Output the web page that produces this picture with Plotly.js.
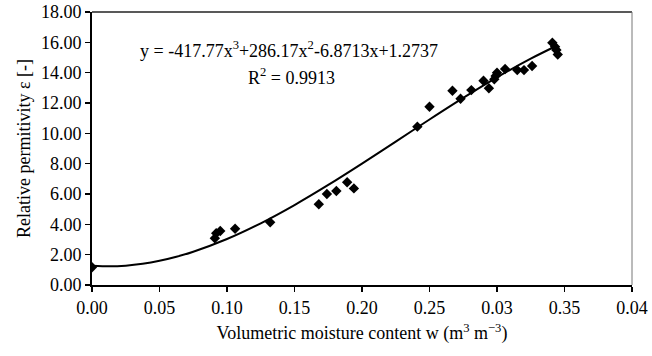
<!DOCTYPE html>
<html>
<head>
<meta charset="utf-8">
<script src="https://cdn.plot.ly/plotly-3.0.1.min.js"></script>
<style>html,body{margin:0;padding:0;background:#fff;}#chart{width:652px;height:356px;}</style>
</head>
<body>
<div id="chart"></div>
<script>
// Measured points
const moisture = [0.000, 0.091, 0.092, 0.095, 0.106, 0.132, 0.168, 0.174, 0.181, 0.189, 0.194,
  0.241, 0.250, 0.267, 0.273, 0.281, 0.290, 0.294, 0.298, 0.299, 0.300, 0.306, 0.315, 0.320, 0.326,
  0.341, 0.343, 0.344, 0.345];
const permittivity = [1.17, 3.08, 3.41, 3.56, 3.71, 4.13, 5.32, 6.00, 6.20, 6.77, 6.37,
  10.44, 11.75, 12.81, 12.28, 12.85, 13.47, 12.97, 13.56, 13.78, 14.00, 14.24, 14.17, 14.17, 14.44,
  15.97, 15.71, 15.49, 15.20];
// Trend line (cubic fit)
const trendX = [0, 0.0125, 0.025, 0.0375, 0.05, 0.0625, 0.075, 0.1, 0.125, 0.15, 0.175, 0.2, 0.225, 0.25, 0.275, 0.3, 0.325, 0.345];
const trendY = [1.274, 1.232, 1.274, 1.396, 1.593, 1.860, 2.192, 3.031, 4.070, 5.272, 6.596, 8.004, 9.456, 10.914, 12.337, 13.688, 14.926, 15.809];
// Axis tick labels (as printed)
const xTickVals = [0, 0.05, 0.10, 0.15, 0.20, 0.25, 0.30, 0.35, 0.40];
const xTickText = ['0.00', '0.05', '0.10', '0.15', '0.20', '0.25', '0.03', '0.35', '0.04'];
const equationText = 'y = -417.77x<sup>3</sup>+286.17x<sup>2</sup>-6.8713x+1.2737';
const r2Text = 'R<sup>2</sup> = 0.9913';

const font = 'Liberation Serif, Times New Roman, serif';

const traces = [
  {x: trendX, y: trendY, mode: 'lines', type: 'scatter', line: {color: '#000', width: 2, shape: 'spline', smoothing: 0.8}, hoverinfo: 'skip'},
  {x: moisture, y: permittivity, mode: 'markers', type: 'scatter', marker: {symbol: 'diamond', size: 8, color: '#000'}}
];

const layout = {
  width: 652, height: 356,
  margin: {l: 92, r: 20, t: 12, b: 71},
  paper_bgcolor: '#fff', plot_bgcolor: '#fff',
  showlegend: false,
  font: {family: font, size: 18, color: '#000'},
  xaxis: {
    range: [0, 0.4], tickvals: xTickVals, ticktext: xTickText,
    showgrid: false, zeroline: false, showline: true, linecolor: '#000', linewidth: 2,
    ticks: 'outside', ticklen: 5, tickwidth: 1.5, tickcolor: '#000',
    tickfont: {family: font, size: 18},
    title: {text: 'Volumetric moisture content w (m<sup>3</sup> m<sup>−3</sup>)', font: {family: font, size: 18}, standoff: 10}
  },
  yaxis: {
    range: [0, 18], dtick: 2, tickformat: '.2f',
    showgrid: false, zeroline: false, showline: true, linecolor: '#000', linewidth: 2,
    ticks: 'outside', ticklen: 5, tickwidth: 1.5, tickcolor: '#000',
    tickfont: {family: font, size: 18},
    title: {text: 'Relative permitivity ε [-]', font: {family: font, size: 18}, standoff: 6}
  },
  shapes: [
    {type: 'line', xref: 'paper', yref: 'paper', x0: 0, x1: 1, y0: 1, y1: 1, line: {color: '#222', width: 1.5}},
    {type: 'line', xref: 'paper', yref: 'paper', x0: 1, x1: 1, y0: 0, y1: 1, line: {color: '#777', width: 1}}
  ],
  annotations: [
    {xref: 'paper', yref: 'paper', x: (289 - 92) / 540, y: (285 - 50) / 273, text: equationText, showarrow: false,
     font: {family: font, size: 18}, xanchor: 'center', yanchor: 'middle'},
    {xref: 'paper', yref: 'paper', x: (291 - 92) / 540, y: (285 - 76) / 273, text: r2Text, showarrow: false,
     font: {family: font, size: 18}, xanchor: 'center', yanchor: 'middle'}
  ]
};

Plotly.newPlot('chart', traces, layout, {displayModeBar: false, staticPlot: true});
</script>
</body>
</html>
